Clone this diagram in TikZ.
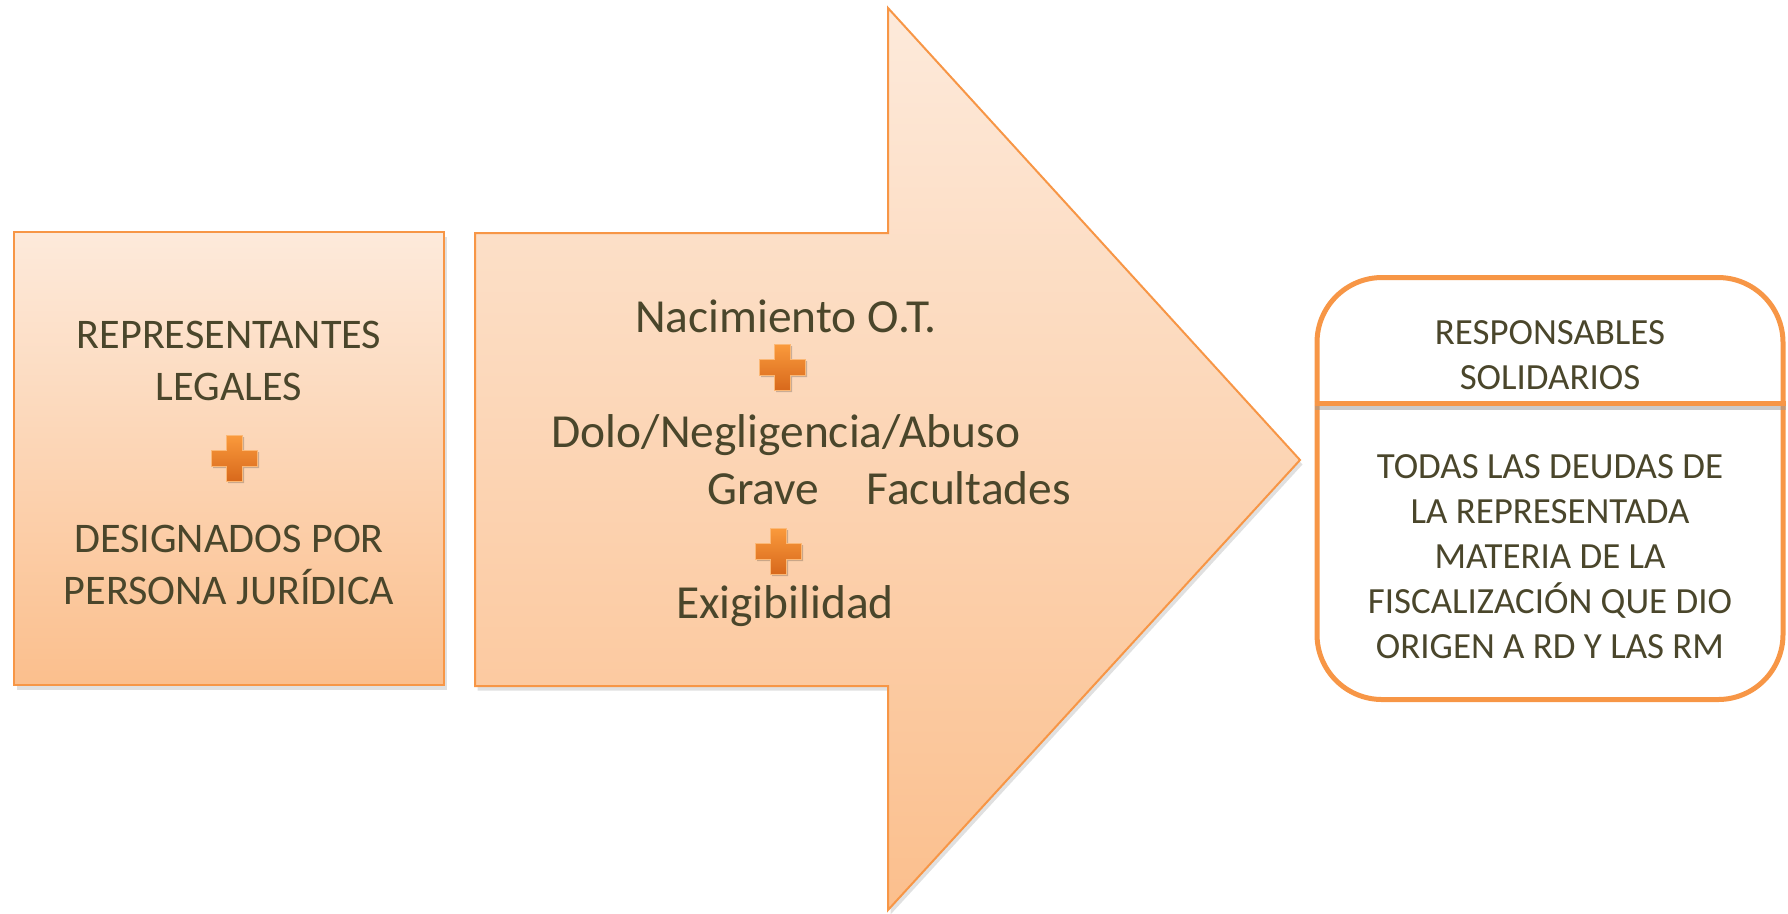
\documentclass[tikz,border=0pt]{standalone}
\usepackage{fontspec}
\setmainfont{Carlito}
\usetikzlibrary{positioning}
\usetikzlibrary{shadows}
\definecolor{peachtop}{HTML}{FDEADB}
\definecolor{peachbot}{HTML}{FBBF8D}
\definecolor{accent}{HTML}{F79646}
\definecolor{plustop}{HTML}{FA9A3C}
\definecolor{plusbot}{HTML}{D8691C}
\definecolor{textdark}{HTML}{4A462B}
\newcommand\leftfont{\fontsize{12}{14.8}\selectfont}
\newcommand\arrowfont{\fontsize{13.5}{16.4}\selectfont}
\newcommand\rightfont{\fontsize{10.5}{12.8}\selectfont}
\tikzset{
    peachfill/.style={draw=accent, line width=0.2mm, top color=peachtop, bottom color=peachbot,
        drop shadow={shadow xshift=0.25mm, shadow yshift=-0.45mm, opacity=0.2, fill=black!60}},
    labeltext/.style={text=textdark, align=center, inner sep=0mm},
    pics/plussign/.style={code={
        \fill [black, opacity=0.2] (-21,-6) -- (-6,-6) -- (-6,-21) -- (10,-21) -- (10,-6) -- (25,-6)
            -- (25,10) -- (10,10) -- (10,25) -- (-6,25) -- (-6,10) -- (-21,10) -- cycle;
        \shade [top color=plustop, bottom color=plusbot, draw=plustop!70!white, line width=0.1mm]
            (-23,-8) -- (-8,-8) -- (-8,-23) -- (8,-23) -- (8,-8) -- (23,-8)
            -- (23,8) -- (8,8) -- (8,23) -- (-8,23) -- (-8,8) -- (-23,8) -- cycle;
    }},
}
\begin{document}
\begin{tikzpicture}[x=0.1mm,y=-0.1mm]
\useasboundingbox (0,0) rectangle (1788,913);
% left block
\node (repbox) [peachfill, minimum width=43mm, minimum height=45.3mm, inner sep=0mm] at (229,458.5) {};
\node (replegal) [labeltext, font=\leftfont] at (229,361) {REPRESENTANTES\\LEGALES};
\pic at (234,458) {plussign};
\node (designados) [labeltext, font=\leftfont] at (229,565) {DESIGNADOS POR\\PERSONA JURÍDICA};
% big arrow
\draw [peachfill] (475,233) -- (888,233) -- (888,8) -- (1300,460) -- (888,910)
    -- (888,686) -- (475,686) -- cycle;
\node (nacimiento) [labeltext, font=\arrowfont, anchor=base] at (786,332) {Nacimiento O.T.};
\pic at (782,367) {plussign};
\node (dolo) [labeltext, font=\arrowfont, anchor=base] at (786,447) {Dolo/Negligencia/Abuso};
\node (grave) [labeltext, font=\arrowfont, anchor=base] at (889,504) {Grave\hspace{1em}Facultades};
\pic at (778,551) {plussign};
\node (exigib) [labeltext, font=\arrowfont, anchor=base] at (785,618) {Exigibilidad};
% result box
\node (solbox) [draw=accent, line width=0.5mm, rounded corners=6.5mm, fill=white,
    minimum width=46.6mm, minimum height=42.2mm] at (1550,488.5) {};
\coordinate (divy) at (0,403);
\draw [black!40, opacity=0.5, line width=0.5mm] ([yshift=-0.45mm]solbox.west |- divy) -- ([yshift=-0.45mm]solbox.east |- divy);
\draw [accent, line width=0.5mm] (solbox.west |- divy) -- (solbox.east |- divy);
\node (responsables) [labeltext, font=\rightfont] at (1550,355) {RESPONSABLES\\SOLIDARIOS};
\node (deudas) [labeltext, font=\rightfont] at (1550,557) {TODAS LAS DEUDAS DE\\LA REPRESENTADA\\MATERIA DE LA\\FISCALIZACIÓN QUE DIO\\ORIGEN A RD Y LAS RM};
\end{tikzpicture}
\end{document}
